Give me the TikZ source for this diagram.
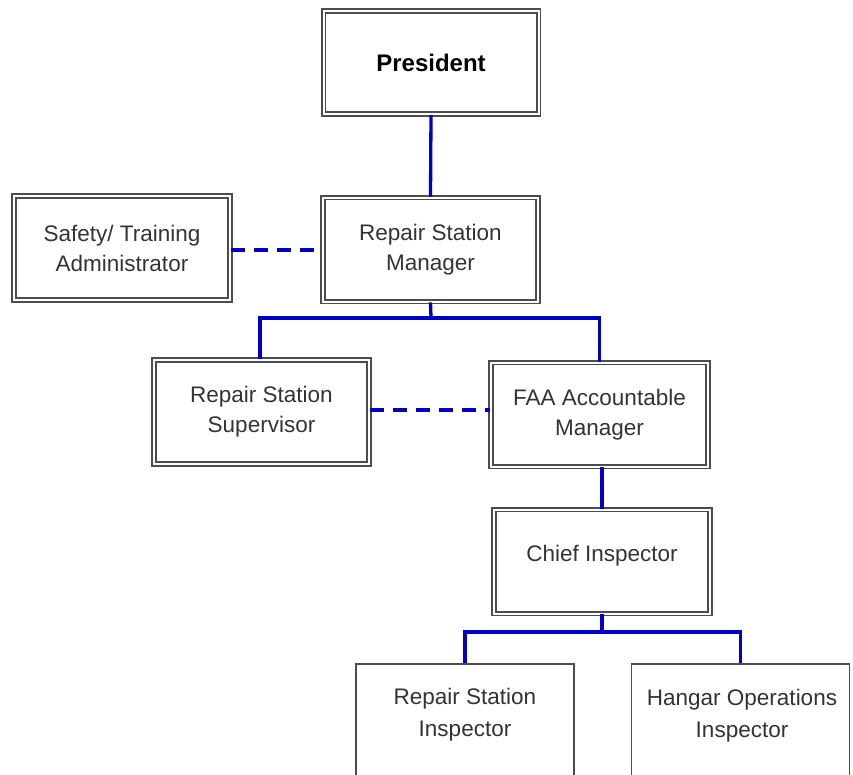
\documentclass[tikz,border=0pt]{standalone}
\usepackage{fontspec}
\setmainfont{Liberation Sans}
\begin{document}
\begin{tikzpicture}[x=1pt,y=-1pt,
  dbox/.style={draw=black!70, line width=1.7pt, double=white, double distance=2pt,
     minimum width=#1, minimum height=104pt, inner sep=0pt, font=\fontsize{22.5}{30}\selectfont,
     text=black!80, align=center},
  sbox/.style={draw=black!70, line width=1.7pt, fill=white,
     minimum width=218pt, minimum height=112pt, inner sep=0pt},
  txt/.style={font=\fontsize{22.5}{32}\selectfont, text=black!80, align=center, inner sep=0pt},
  conn/.style={draw=blue!80!black, line width=3.3pt},
  dconn/.style={conn, dash pattern=on 14pt off 9pt}
]
\useasboundingbox (0,0) rectangle (853,774);
% boxes
\node[dbox=215pt, minimum height=103pt, font=\fontsize{24}{30}\selectfont\bfseries, text=black] (pres) at (431,62.5) {President};
\node[dbox=216pt] (safety) at (122,248) {Safety/ Training\\Administrator};
\node[dbox=215pt] (rsm) at (430.5,249.5) {Repair Station\\Manager};
\node[dbox=215pt] (sup) at (261.5,412) {Repair Station\\Supervisor};
\node[dbox=217pt] (faa) at (599.5,414.5) {FAA Accountable\\Manager};
\node[dbox=216pt] (chief) at (602,561.5) {};
\node[txt] (chieft) at (602,556) {Chief Inspector};
\node[sbox] (rsi) at (465,720) {};
\node[txt] (rsit) at (465,715) {Repair Station\\Inspector};
\node[sbox] (hoi) at (740.5,720) {};
\node[txt] (hoit) at (742,716) {Hangar Operations\\Inspector};
\useasboundingbox (0,0) rectangle (853,774);
% connectors
\draw[conn] (pres.south) -- (rsm.north);
\draw[dconn] (safety.east |- 0,250) -- (rsm.west |- 0,250);
\coordinate (j1) at (431,318);
\draw[conn] (rsm.south) -- (j1);
\draw[conn] (sup.north -| 260,0) |- (j1) -| (faa.north);
\draw[dconn] (sup.east |- 0,410) -- (faa.west |- 0,410);
\draw[conn] (chief.north |- faa.south) -- (chief.north);
\coordinate (j2) at (602,632);
\draw[conn] (chief.south) -- (j2);
\draw[conn] (rsi.north) |- (j2) -| (hoi.north);
\end{tikzpicture}
\end{document}
